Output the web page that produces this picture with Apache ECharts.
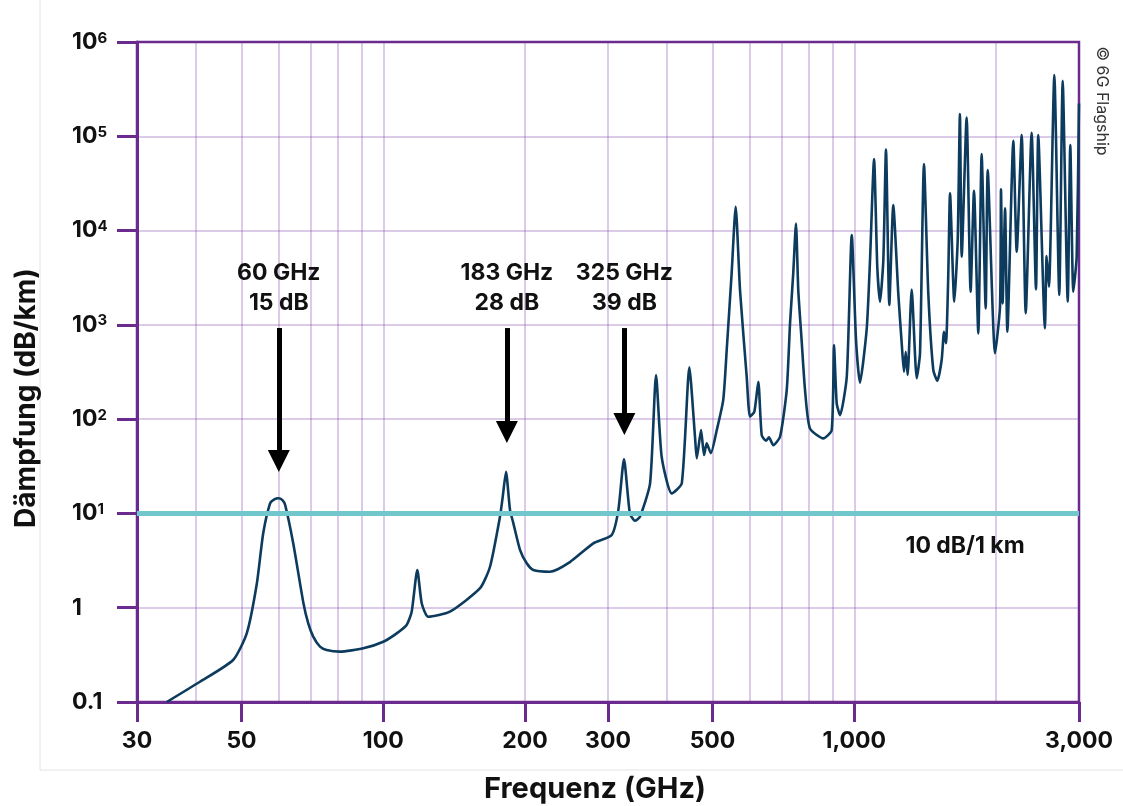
<!DOCTYPE html>
<html>
<head>
<meta charset="utf-8">
<title>Dämpfung</title>
<script src="https://cdn.jsdelivr.net/npm/echarts@6.0.0/dist/echarts.min.js"></script>
<style>
html,body{margin:0;padding:0;background:#fff;}
#chart{width:1123px;height:806px;}
</style>
</head>
<body>
<div id="chart"></div>
<script>
//频率 (GHz)
var freq = [34.7, 40.8, 48.0, 51.3, 53.9, 55.6, 57.5, 58.7, 59.9, 61.0, 61.9, 64.4, 67.7, 69.3, 71.0, 73.4, 75.8, 80.9, 90.7, 100,
	106.8, 112.1, 114.9, 118.1, 120.7, 124.6, 138.5, 160.5, 168.5, 176.9, 179.3, 182.2, 185.8, 188.9, 195.2, 201.6, 208.2, 225.9, 249,
	279.2, 305.5, 315.6, 324.4, 333.9, 342.3, 350.7, 368.5, 379.4, 390, 409.6, 430.3, 446.5, 459, 463,
	472.8, 479.8, 486, 496, 510.6, 527, 536, 549, 560, 572, 591, 600.6, 613.5, 625.5, 636, 649.5, 659,
	673, 695.7, 718.8, 730.5, 742, 752, 760.5, 773, 786, 805, 859.5, 895.5, 905.7, 917.7, 932.7, 964,
	987.7, 1008.6, 1028, 1062.6, 1080, 1101.5, 1119, 1134, 1152.6, 1167.7, 1186.8, 1210, 1240, 1261,
	1275, 1286, 1298, 1324, 1357, 1379, 1406, 1436, 1471.5, 1500.6, 1533, 1550.7, 1565.7, 1583, 1597,
	1630.5, 1658, 1676, 1690.8, 1732, 1766, 1795.6, 1833.6, 1864, 1901, 1920, 1990, 2039, 2049, 2065,
	2090, 2113.5, 2176, 2212.5, 2267, 2312, 2380, 2431, 2458, 2540, 2561, 2590, 2659, 2724, 2770, 2839,
	2875, 2917.5, 2966, 3000];
//衰减 (dB/km)
var daempfung = [0.1, 0.164, 0.279, 0.535, 1.81, 6.15, 12.8, 14.1, 14.5, 13.9, 12.3, 4.8, 1.11, 0.683, 0.493, 0.386, 0.356, 0.342, 0.371, 0.436,
	0.535, 0.655, 0.907, 2.51, 1.11, 0.803, 0.907, 1.61, 2.72, 9.2, 15.0, 27.7, 10.9, 7.85, 4.09, 2.96, 2.51, 2.41, 3.05,
	4.82, 5.9, 10.9, 37.5, 10.0, 8.37, 9.23, 20.8, 294, 39.9, 16.3, 20.8, 354, 65, 38.4,
	76.6, 41.6, 55.3, 43.5, 76.6, 160, 541, 3500, 17860, 2339, 282, 106, 120, 249, 67.8, 59, 64,
	53, 65, 204, 1037, 3516, 11900, 2339, 690, 204, 79.8, 62.5, 76.6, 611, 147, 110, 282,
	8950, 690, 243, 900, 4860, 57300, 4130, 1758, 4860, 72500, 1622, 18600, 2158, 637,
	318, 519, 294, 2375, 271, 499, 50700, 2158, 332, 255, 424, 845, 637, 3236, 24800,
	1758, 7925, 171800, 5270, 158500, 2244, 26400, 813, 64700, 1496, 43900, 499, 1556, 27350, 1690,
	17180, 845, 89500, 5960, 103000, 1324, 109000, 2375, 103000, 918, 5370, 2535, 446000, 2070, 388000, 1758,
	80700, 2244, 5270, 223000];

//刻度
var xTicks = [30, 50, 100, 200, 300, 500, 1000, 3000];
var xGrid = [40, 50, 60, 70, 80, 90, 100, 200, 300, 400, 500, 600, 700, 800, 900, 1000, 2000];
var yTicks = [0.1, 1, 10, 100, 1000, 10000, 100000, 1000000];
var yGrid = [1, 10, 100, 1000, 10000, 100000];

//标注
var peakFreq = [60, 183, 325];
var peakText = ['60 GHz\n15 dB', '183 GHz\n28 dB', '325 GHz\n39 dB'];
var limitValue = 10;
var limitText = '10 dB/1 km';

var purple = '#6a2a8e';
var gridColor = 'rgba(125,70,175,0.28)';
var font = 'Inter';

var lineData = [];
for (var i = 0; i < freq.length; i++) {
	lineData.push([freq[i], daempfung[i]]);
}

//箭头 (顶端 / 尖端)
var arrowTop = 925, arrowEnd = [36, 73, 88.7];
var arrows = [];
for (var j = 0; j < peakFreq.length; j++) {
	arrows.push([
		{coord: [peakFreq[j], arrowTop], name: peakText[j]},
		{coord: [peakFreq[j], arrowEnd[j]]}
	]);
}

function yLabel(v) {
	var e = Math.round(Math.log10(v));
	if (e < 0) return '0.1';
	if (e === 0) return '1';
	return '{b|10}{s|' + e + '}';
}

var myChart = echarts.init(document.getElementById('chart'), null, {renderer: 'canvas'});
var option = {
	animation: false,
	backgroundColor: '#fff',
	grid: {
		left: 137, right: 44, top: 42, bottom: 104,
		containLabel: false, outerBoundsMode: 'none',
		show: true, borderColor: purple, borderWidth: 2.5, backgroundColor: 'transparent'
	},
	xAxis: [{
		type: 'log', logBase: 10, min: 30, max: 3000,
		name: 'Frequenz (GHz)', nameLocation: 'middle', nameGap: 73, nameMoveOverlap: false,
		nameTextStyle: {fontFamily: font, fontSize: 29, fontWeight: 'bold', color: '#111', padding: [0, 26, 0, 0]},
		axisLine: {show: true, lineStyle: {color: purple, width: 3}},
		axisTick: {show: true, length: 20, inside: false, customValues: xTicks, lineStyle: {color: purple, width: 3}},
		axisLabel: {
			customValues: xTicks, margin: 28, fontFamily: font, fontSize: 23, fontWeight: 'bold', color: '#111',
			formatter: function (v) { return Math.round(v).toLocaleString('en-US'); }
		},
		splitLine: {show: false}, minorTick: {show: false}, minorSplitLine: {show: false}
	}, {
		type: 'log', logBase: 10, min: 30, max: 3000, position: 'bottom',
		axisLine: {show: false}, axisLabel: {show: false},
		axisTick: {show: false, customValues: xGrid},
		splitLine: {show: true, lineStyle: {color: gridColor, width: 2}}
	}],
	yAxis: [{
		type: 'log', logBase: 10, min: 0.1, max: 1000000,
		name: 'Dämpfung (dB/km)', nameLocation: 'middle', nameGap: 96, nameMoveOverlap: false,
		nameTextStyle: {fontFamily: font, fontSize: 28, fontWeight: 'bold', color: '#111', padding: [0, 52, 0, 0]},
		axisLine: {show: true, lineStyle: {color: purple, width: 3}},
		axisTick: {show: true, length: 20, inside: false, customValues: yTicks, lineStyle: {color: purple, width: 3}},
		axisLabel: {
			customValues: yTicks, margin: 65, align: 'left', fontFamily: font, fontSize: 23, fontWeight: 'bold', color: '#111',
			formatter: yLabel,
			rich: {
				b: {fontFamily: font, fontSize: 23, fontWeight: 'bold', color: '#111'},
				s: {fontFamily: font, fontSize: 15, fontWeight: 'bold', color: '#111', verticalAlign: 'top'}
			}
		},
		splitLine: {show: false}, minorTick: {show: false}, minorSplitLine: {show: false}
	}, {
		type: 'log', logBase: 10, min: 0.1, max: 1000000, position: 'left',
		axisLine: {show: false}, axisLabel: {show: false},
		axisTick: {show: false, customValues: yGrid},
		splitLine: {show: true, lineStyle: {color: gridColor, width: 2}}
	}],
	graphic: [
		{type: 'line', shape: {x1: 40, y1: 0, x2: 40, y2: 770}, style: {stroke: '#e4e4e4', lineWidth: 1}, silent: true, z: -10},
		{type: 'line', shape: {x1: 40, y1: 770, x2: 1123, y2: 770}, style: {stroke: '#e4e4e4', lineWidth: 1}, silent: true, z: -10},
		{
			type: 'text', x: 1102, y: 101, rotation: -Math.PI / 2, silent: true,
			style: {text: '© 6G Flagship', fontFamily: font, fontSize: 16, fill: '#333', align: 'center', verticalAlign: 'middle'}
		}
	],
	series: [{
		name: 'Dämpfung',
		type: 'line',
		xAxisIndex: 0, yAxisIndex: 0,
		data: lineData,
		showSymbol: false,
		symbol: 'none',
		smooth: 0.2,
		lineStyle: {color: '#0c3b5e', width: 2.6},
		z: 3,
		markLine: {
			silent: true,
			symbol: ['none', 'triangle'],
			symbolSize: 22,
			lineStyle: {color: '#000', width: 5, type: 'solid'},
			label: {
				show: true, position: 'start', distance: 10, formatter: '{b}',
				fontFamily: font, fontSize: 23, fontWeight: 'bold', color: '#111', lineHeight: 30, align: 'center'
			},
			data: arrows
		}
	}, {
		name: 'Grenze',
		type: 'line',
		xAxisIndex: 0, yAxisIndex: 0,
		data: [[30, limitValue], [3000, limitValue]],
		showSymbol: false,
		symbol: 'none',
		lineStyle: {color: '#72c7cc', width: 5},
		z: 4,
		markPoint: {
			silent: true,
			symbol: 'circle', symbolSize: 0,
			label: {
				show: true, formatter: '{b}', offset: [0, 33],
				fontFamily: font, fontSize: 23, fontWeight: 'bold', color: '#111'
			},
			data: [{coord: [1719, limitValue], name: limitText}]
		}
	}]
};

myChart.setOption(option);
window.onresize = myChart.resize;
</script>
</body>
</html>
